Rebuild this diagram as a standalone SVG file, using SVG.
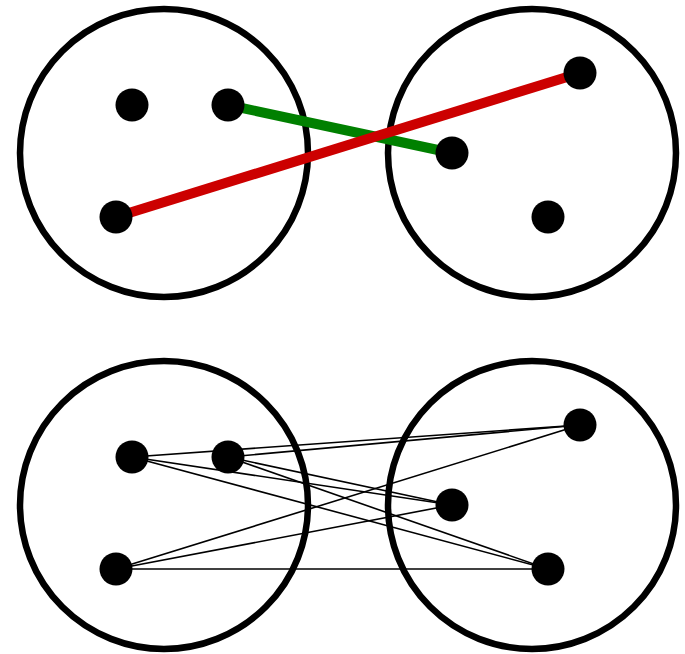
<svg xmlns="http://www.w3.org/2000/svg" width="685" height="654" viewBox="0 0 685 654">
<style>
.ring{fill:none;stroke:#000;stroke-width:6.5}
.dot{fill:#000}
.thin{stroke:#000;stroke-width:1.6;fill:none}
.thick{stroke-width:10;fill:none}
</style>
<rect width="685" height="654" fill="#fff"/>
<g id="set-top-left"><circle class="ring" cx="164" cy="153" r="144"/></g>
<g id="set-top-right"><circle class="ring" cx="532" cy="153" r="144"/></g>
<g id="set-bottom-left"><circle class="ring" cx="164" cy="505" r="144"/></g>
<g id="set-bottom-right"><circle class="ring" cx="532" cy="505" r="144"/></g>
<g id="connectors">
<line class="thick" stroke="#008000" x1="228" y1="105" x2="452" y2="153"/>
<line class="thick" stroke="#cc0000" x1="116" y1="217" x2="580" y2="73"/>
<line class="thin" x1="132" y1="457" x2="580" y2="425"/>
<line class="thin" x1="132" y1="457" x2="452" y2="505"/>
<line class="thin" x1="132" y1="457" x2="548" y2="569"/>
<line class="thin" x1="228" y1="457" x2="580" y2="425"/>
<line class="thin" x1="228" y1="457" x2="452" y2="505"/>
<line class="thin" x1="228" y1="457" x2="548" y2="569"/>
<line class="thin" x1="116" y1="569" x2="580" y2="425"/>
<line class="thin" x1="116" y1="569" x2="452" y2="505"/>
<line class="thin" x1="116" y1="569" x2="548" y2="569"/>
</g>
<g id="n-tl-1"><circle class="dot" cx="132" cy="105" r="16.5"/></g>
<g id="n-tl-2"><circle class="dot" cx="228" cy="105" r="16.5"/></g>
<g id="n-tl-3"><circle class="dot" cx="116" cy="217" r="16.5"/></g>
<g id="n-tr-1"><circle class="dot" cx="580" cy="73" r="16.5"/></g>
<g id="n-tr-2"><circle class="dot" cx="452" cy="153" r="16.5"/></g>
<g id="n-tr-3"><circle class="dot" cx="548" cy="217" r="16.5"/></g>
<g id="n-bl-1"><circle class="dot" cx="132" cy="457" r="16.5"/></g>
<g id="n-bl-2"><circle class="dot" cx="228" cy="457" r="16.5"/></g>
<g id="n-bl-3"><circle class="dot" cx="116" cy="569" r="16.5"/></g>
<g id="n-br-1"><circle class="dot" cx="580" cy="425" r="16.5"/></g>
<g id="n-br-2"><circle class="dot" cx="452" cy="505" r="16.5"/></g>
<g id="n-br-3"><circle class="dot" cx="548" cy="569" r="16.5"/></g>
</svg>
